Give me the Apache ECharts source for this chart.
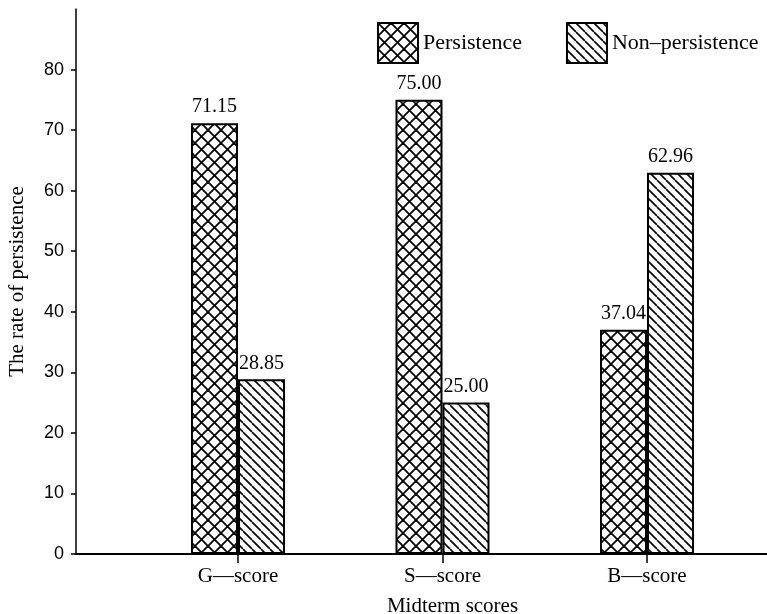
<!DOCTYPE html>
<html>
<head>
<meta charset="utf-8">
<script src="https://cdn.jsdelivr.net/npm/echarts@6/dist/echarts.min.js"></script>
<style>html,body{margin:0;padding:0;background:#fff}#c{width:767px;height:614px}</style>
</head>
<body>
<div id="c"></div>
<script>
const categories = ['G\u2014score', 'S\u2014score', 'B\u2014score'];
const persistence = [71.15, 75.00, 37.04];
const nonPersistence = [28.85, 25.00, 62.96];
const yTicks = [0, 10, 20, 30, 40, 50, 60, 70, 80];
const seriesNames = ['Persistence', 'Non\u2013persistence'];

function makePattern(p, cross, lw) {
  const c = document.createElement('canvas');
  c.width = p; c.height = p;
  const g = c.getContext('2d');
  g.fillStyle = '#fff'; g.fillRect(0, 0, p, p);
  g.strokeStyle = '#000'; g.lineWidth = lw;
  for (let k = -1; k <= 1; k++) {
    g.beginPath(); g.moveTo(k * p, 0); g.lineTo(k * p + p, p); g.stroke();
    if (cross) { g.beginPath(); g.moveTo(k * p + p, 0); g.lineTo(k * p, p); g.stroke(); }
  }
  return { image: c, repeat: 'repeat' };
}
const crossPat = makePattern(13, true, 1.8);
const diagPat = makePattern(9, false, 1.6);

const serif = 'Liberation Serif';
const chart = echarts.init(document.getElementById('c'));
chart.setOption({
  animation: false,
  backgroundColor: '#fff',
  legend: {
    left: 377, top: 22, padding: 0, width: 440, orient: 'horizontal',
    itemWidth: 40, itemHeight: 40, itemGap: 44,
    icon: 'rect',
    data: seriesNames,
    textStyle: { fontFamily: serif, fontSize: 22, color: '#000' }
  },
  grid: [
    { left: 76, right: 0, top: 9, bottom: 60, containLabel: false, outerBoundsMode: 'none' },
    { left: 135.75, right: 17.75, top: 9, bottom: 60, containLabel: false, outerBoundsMode: 'none' }
  ],
  xAxis: [
    { gridIndex: 0, type: 'value', min: 0, max: 1,
      axisLine: { show: true, lineStyle: { color: '#000', width: 2 } },
      axisTick: { show: false }, axisLabel: { show: false }, splitLine: { show: false } },
    { gridIndex: 1, type: 'category', data: categories,
      axisLine: { show: false },
      axisTick: { show: true, alignWithLabel: true, length: 9, lineStyle: { color: '#000', width: 1.5 } },
      axisLabel: { margin: 12, fontFamily: serif, fontSize: 21, color: '#000' },
      name: 'Midterm scores', nameLocation: 'middle', nameGap: 42,
      nameTextStyle: { fontFamily: serif, fontSize: 21, color: '#000', padding: [0, 0, 0, 20] } }
  ],
  yAxis: [
    { gridIndex: 0, type: 'value', min: 0, max: 90, interval: 10,
      axisLine: { show: true, lineStyle: { color: '#000', width: 1.5 } },
      axisTick: { show: true, length: 5, customValues: yTicks, lineStyle: { color: '#000', width: 1.5 } },
      axisLabel: { margin: 12, customValues: yTicks, fontFamily: 'Liberation Sans', fontSize: 18, color: '#000',
        formatter: v => (yTicks.indexOf(v) >= 0 ? String(v) : '') },
      splitLine: { show: false },
      name: 'The rate of persistence', nameLocation: 'middle', nameGap: 48,
      nameTextStyle: { fontFamily: serif, fontSize: 21, color: '#000' } },
    { gridIndex: 1, type: 'value', min: 0, max: 90, show: false, splitLine: { show: false } }
  ],
  series: [
    { name: seriesNames[0], type: 'bar', xAxisIndex: 1, yAxisIndex: 1, data: persistence,
      barWidth: 47, barGap: '0%',
      itemStyle: { color: crossPat, borderColor: '#000', borderWidth: 2 },
      label: { show: true, position: 'top', distance: 6, fontFamily: serif, fontSize: 20, color: '#000',
        formatter: p => p.value.toFixed(2) } },
    { name: seriesNames[1], type: 'bar', xAxisIndex: 1, yAxisIndex: 1, data: nonPersistence,
      barWidth: 47, barGap: '0%',
      itemStyle: { color: diagPat, borderColor: '#000', borderWidth: 2 },
      label: { show: true, position: 'top', distance: 6, fontFamily: serif, fontSize: 20, color: '#000',
        formatter: p => p.value.toFixed(2) } }
  ]
});
</script>
</body>
</html>
